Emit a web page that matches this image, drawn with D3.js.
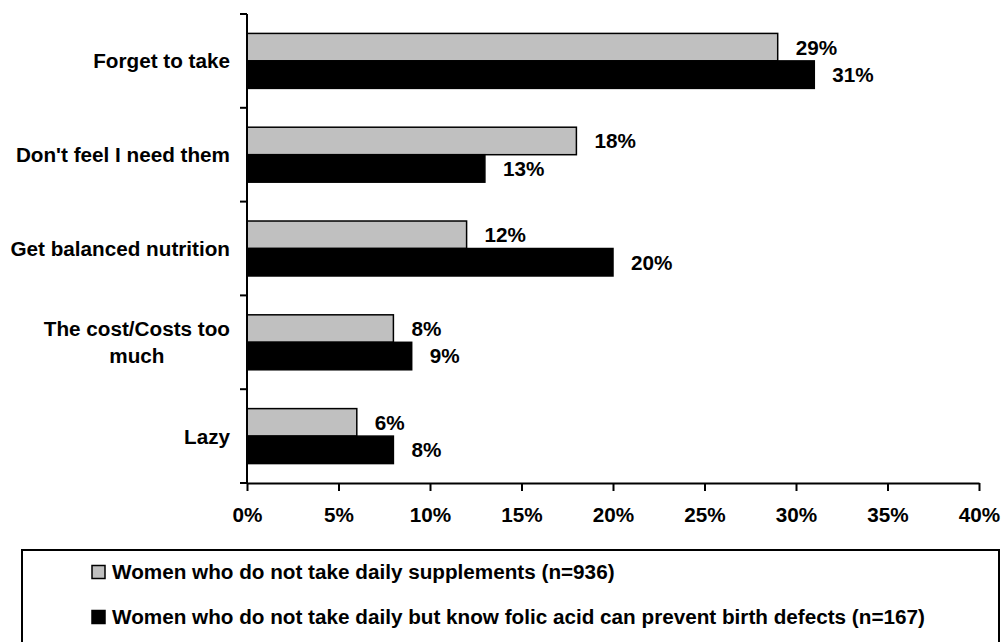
<!DOCTYPE html>
<html>
<head>
<meta charset="utf-8">
<script src="https://cdn.jsdelivr.net/npm/d3@7"></script>
<style>
  html, body { margin: 0; padding: 0; background: #fff; }
  svg { display: block; }
  text { font-family: "Liberation Sans", Arial, Helvetica, sans-serif; font-weight: bold; fill: #000; }
</style>
</head>
<body>
<svg id="chart" width="1005" height="642"></svg>
<script>
// Reasons for not taking supplements, by group
const categories = [
  "Forget to take",
  "Don't feel I need them",
  "Get balanced nutrition",
  "The cost/Costs too much",
  "Lazy"
];
const seriesNames = [
  "Women who do not take daily supplements (n=936)",
  "Women who do not take daily but know folic acid can prevent birth defects (n=167)"
];
const allNonTakers = [29, 18, 12, 8, 6];
const folicAware = [31, 13, 20, 9, 8];
const xTicks = [0, 5, 10, 15, 20, 25, 30, 35, 40];
const seriesColors = ["#c0c0c0", "#000000"];

const series = [allNonTakers, folicAware];
const fontSize = 20.7;

const svg = d3.select("#chart");
const plot = { left: 247, right: 979, top: 14, bottom: 483 };

const x = d3.scaleLinear().domain([0, 40]).range([plot.left, plot.right]);
const y = d3.scaleBand().domain(categories).range([plot.top, plot.bottom])
  .paddingInner(0.414).paddingOuter(0.207);
const ySub = d3.scaleBand().domain([0, 1]).range([0, y.bandwidth()]);

// Bars
series.forEach((vals, si) => {
  svg.append("g").selectAll("rect")
    .data(categories.map((c, i) => ({ c, v: vals[i] })))
    .join("rect")
    .attr("x", x(0))
    .attr("y", d => y(d.c) + ySub(si))
    .attr("width", d => x(d.v) - x(0))
    .attr("height", ySub.bandwidth())
    .attr("fill", seriesColors[si])
    .attr("stroke", "#000")
    .attr("stroke-width", 1.5);

  svg.append("g").selectAll("text")
    .data(categories.map((c, i) => ({ c, v: vals[i] })))
    .join("text")
    .attr("x", d => x(d.v) + 18)
    .attr("y", d => y(d.c) + ySub(si) + ySub.bandwidth() / 2)
    .attr("dy", "0.36em")
    .attr("font-size", fontSize)
    .text(d => d.v + "%");
});

// X axis
const xAxis = svg.append("g")
  .attr("transform", `translate(0,${plot.bottom})`)
  .call(d3.axisBottom(x).tickValues(xTicks).tickSize(8).tickSizeOuter(0).tickFormat(d => d + "%"));
xAxis.select(".domain").attr("stroke", "#000").attr("stroke-width", 2);
xAxis.selectAll(".tick line").attr("stroke", "#000").attr("stroke-width", 2);
xAxis.selectAll(".tick text").attr("font-size", fontSize).attr("y", 24).attr("dy", "0.71em")
  .attr("font-family", null).attr("fill", "#000");

// Y axis: line with ticks at category boundaries
const boundaries = d3.range(categories.length + 1).map(i => plot.top + i * y.step());
svg.append("line")
  .attr("x1", plot.left).attr("x2", plot.left)
  .attr("y1", plot.top).attr("y2", plot.bottom)
  .attr("stroke", "#000").attr("stroke-width", 2);
svg.append("g").selectAll("line")
  .data(boundaries)
  .join("line")
  .attr("x1", plot.left - 7).attr("x2", plot.left)
  .attr("y1", d => d).attr("y2", d => d)
  .attr("stroke", "#000").attr("stroke-width", 2);

// Category labels, wrapped and centred within a right-aligned block
const labelRight = 230, maxLabelWidth = 228, lineHeight = 27;
const measure = svg.append("text").attr("font-size", fontSize).attr("visibility", "hidden");
function textWidth(s) { measure.text(s); return measure.node().getComputedTextLength(); }
function wrap(s) {
  const words = s.split(" ");
  const lines = [];
  let cur = "";
  words.forEach(w => {
    const t = cur ? cur + " " + w : w;
    if (cur && textWidth(t) > maxLabelWidth) { lines.push(cur); cur = w; }
    else cur = t;
  });
  lines.push(cur);
  return lines;
}
categories.forEach(c => {
  const lines = wrap(c);
  const widths = lines.map(textWidth);
  const blockW = d3.max(widths);
  const cx = labelRight - blockW / 2;
  const cy = y(c) + y.bandwidth() / 2;
  const t = svg.append("text")
    .attr("font-size", fontSize)
    .attr("text-anchor", "middle");
  lines.forEach((ln, i) => {
    t.append("tspan")
      .attr("x", cx)
      .attr("y", cy + (i - (lines.length - 1) / 2) * lineHeight)
      .attr("dy", "0.36em")
      .text(ln);
  });
});
measure.remove();

// Legend
const legend = svg.append("g");
legend.append("rect")
  .attr("x", 22).attr("y", 550)
  .attr("width", 977).attr("height", 110)
  .attr("fill", "none").attr("stroke", "#000").attr("stroke-width", 2);
seriesNames.forEach((name, i) => {
  const cy = 572 + i * 45;
  legend.append("rect")
    .attr("x", 92).attr("y", cy - 6.5)
    .attr("width", 13).attr("height", 13)
    .attr("fill", seriesColors[i])
    .attr("stroke", "#000").attr("stroke-width", 1.5);
  legend.append("text")
    .attr("x", 112).attr("y", cy).attr("dy", "0.36em")
    .attr("font-size", fontSize)
    .text(name);
});
</script>
</body>
</html>
